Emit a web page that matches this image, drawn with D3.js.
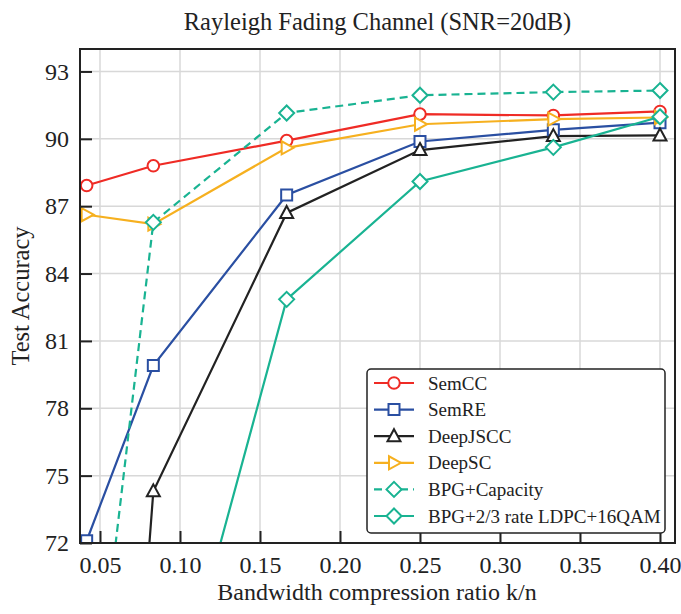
<!DOCTYPE html>
<html>
<head>
<meta charset="utf-8">
<script src="https://cdn.jsdelivr.net/npm/d3@7"></script>
<style>
  body { margin: 0; background: #fff; }
  text { font-family: "Liberation Serif", "DejaVu Serif", serif; fill: #222; }
</style>
</head>
<body>
<div id="chart"></div>
<script>
// x positions: bandwidth compression ratio k/n
const ratios = [1 / 24, 1 / 12, 1 / 6, 1 / 4, 1 / 3, 0.4];

// test accuracy per scheme (values below 72 run off the bottom of the plot)
const semCC = [87.92, 88.8, 89.92, 91.1, 91.04, 91.22];
const semRE = [72.1, 79.9, 87.5, 89.88, 90.4, 90.72];
const deepJSCC = [35, 74.3, 86.7, 89.5, 90.12, 90.15];
const deepSC = [86.62, 86.2, 89.6, 90.65, 90.88, 90.95];
const bpgCapacity = [61, 86.28, 91.15, 91.94, 92.08, 92.15];
const bpgLdpc = [null, 61, 82.85, 88.1, 89.62, 90.98];

const xTicks = [0.05, 0.10, 0.15, 0.20, 0.25, 0.30, 0.35, 0.40];
const yTicks = [72, 75, 78, 81, 84, 87, 90, 93];

const series = [
  { name: "SemCC", values: semCC, color: "#ef2b25", marker: "circle", dash: null },
  { name: "SemRE", values: semRE, color: "#2a4fa2", marker: "square", dash: null },
  { name: "DeepJSCC", values: deepJSCC, color: "#222222", marker: "triangle", dash: null },
  { name: "DeepSC", values: deepSC, color: "#f6b01f", marker: "tright", dash: null },
  { name: "BPG+Capacity", values: bpgCapacity, color: "#19b392", marker: "diamond", dash: "8,5" },
  { name: "BPG+2/3 rate LDPC+16QAM", values: bpgLdpc, color: "#19b392", marker: "diamond", dash: null }
];

const serif = "'Liberation Serif', 'DejaVu Serif', serif";
const width = 681, height = 614;
const margin = { top: 49, right: 6, bottom: 71, left: 80 };
const innerW = width - margin.left - margin.right;
const innerH = height - margin.top - margin.bottom;

const svg = d3.select("#chart").append("svg")
  .attr("width", width)
  .attr("height", height);

const x = d3.scaleLinear().domain([0.0375, 0.409375]).range([0, innerW]);
const y = d3.scaleLinear().domain([72, 94]).range([innerH, 0]);

const g = svg.append("g").attr("transform", `translate(${margin.left},${margin.top})`);

g.append("clipPath").attr("id", "clip")
  .append("rect").attr("width", innerW).attr("height", innerH);

// grid
g.append("g").selectAll("line.vx").data(xTicks).enter().append("line")
  .attr("x1", d => x(d)).attr("x2", d => x(d))
  .attr("y1", 0).attr("y2", innerH)
  .attr("stroke", "#d8d8d8").attr("stroke-width", 1.5);
g.append("g").selectAll("line.hy").data(yTicks).enter().append("line")
  .attr("y1", d => y(d)).attr("y2", d => y(d))
  .attr("x1", 0).attr("x2", innerW)
  .attr("stroke", "#d8d8d8").attr("stroke-width", 1.5);

// marker paths
const markerPath = function (type) {
  if (type === "circle") return d3.symbol(d3.symbolCircle, 105)();
  if (type === "square") return "M-5.5,-5.5H5.5V5.5H-5.5Z";
  if (type === "triangle") return "M0,-7L6.5,5H-6.5Z";
  if (type === "tright") return "M7,0L-5,-6.5V6.5Z";
  if (type === "diamond") return "M0,-7.5L7.5,0L0,7.5L-7.5,0Z";
};

const plot = g.append("g").attr("clip-path", "url(#clip)");
const line = d3.line()
  .defined(d => d[1] !== null)
  .x(d => x(d[0]))
  .y(d => y(d[1]));

series.forEach(function (s) {
  const pts = ratios.map((r, i) => [r, s.values[i]]);
  plot.append("path")
    .datum(pts)
    .attr("fill", "none")
    .attr("stroke", s.color)
    .attr("stroke-width", 2.2)
    .attr("stroke-dasharray", s.dash)
    .attr("d", line);
});

// markers drawn after lines, clipped to the plot area (with a little slack)
g.append("clipPath").attr("id", "clipm")
  .append("rect").attr("x", -10).attr("y", -10).attr("width", innerW + 20).attr("height", innerH + 10);
const marks = g.append("g").attr("clip-path", "url(#clipm)");
series.forEach(function (s) {
  const pts = ratios.map((r, i) => [r, s.values[i]]).filter(d => d[1] !== null && d[1] >= 71.8);
  marks.selectAll(null).data(pts).enter().append("path")
    .attr("transform", d => `translate(${x(d[0])},${y(d[1])})`)
    .attr("d", markerPath(s.marker))
    .attr("fill", "#fff")
    .attr("stroke", s.color)
    .attr("stroke-width", 2);
});

// frame
g.append("rect").attr("width", innerW).attr("height", innerH)
  .attr("fill", "none").attr("stroke", "#222").attr("stroke-width", 2);

// axes with inward ticks
const xAxis = d3.axisBottom(x).tickValues(xTicks).tickFormat(d3.format(".2f"))
  .tickSizeInner(-12).tickSizeOuter(0).tickPadding(13);
const yAxis = d3.axisLeft(y).tickValues(yTicks).tickFormat(d3.format("d"))
  .tickSizeInner(-12).tickSizeOuter(0).tickPadding(16);

const gx = g.append("g").attr("transform", `translate(0,${innerH})`).call(xAxis);
const gy = g.append("g").call(yAxis);
[gx, gy].forEach(function (a) {
  a.attr("font-family", serif).attr("font-size", 24);
  a.select(".domain").remove();
  a.selectAll(".tick line").attr("stroke", "#222").attr("stroke-width", 2);
  a.selectAll(".tick text").style("font-family", serif).attr("font-size", 24).attr("fill", "#222");
});
gy.selectAll(".tick text").attr("dx", 5);

// title and axis labels
svg.append("text")
  .attr("x", margin.left + innerW / 2).attr("y", 30)
  .attr("text-anchor", "middle").attr("font-size", 24.5)
  .text("Rayleigh Fading Channel (SNR=20dB)");
svg.append("text")
  .attr("x", margin.left + innerW / 2 - 0.5).attr("y", 600)
  .attr("text-anchor", "middle").attr("font-size", 24)
  .text("Bandwidth compression ratio k/n");
svg.append("text")
  .attr("transform", `translate(29,${margin.top + innerH / 2}) rotate(-90)`)
  .attr("text-anchor", "middle").attr("font-size", 24.5)
  .text("Test Accuracy");

// legend
const lg = svg.append("g").attr("transform", "translate(367,369)");
lg.append("rect").attr("width", 298).attr("height", 164).attr("rx", 4)
  .attr("fill", "#fff").attr("stroke", "#222").attr("stroke-width", 1.5);
series.forEach(function (s, i) {
  const yy = 14 + i * 26.6;
  lg.append("line").attr("x1", 7).attr("x2", 47).attr("y1", yy).attr("y2", yy)
    .attr("stroke", s.color).attr("stroke-width", 2.2).attr("stroke-dasharray", s.dash);
  lg.append("path").attr("transform", `translate(27,${yy})`)
    .attr("d", markerPath(s.marker)).attr("fill", "#fff")
    .attr("stroke", s.color).attr("stroke-width", 2);
  lg.append("text").attr("x", 61).attr("y", yy + 6.5).attr("font-size", 19).text(s.name);
});
</script>
</body>
</html>
